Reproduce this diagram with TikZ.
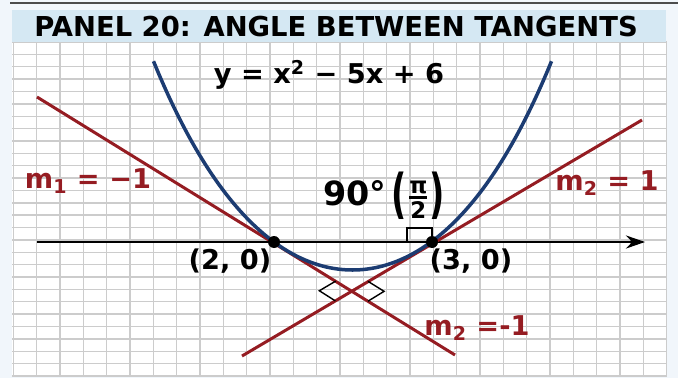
\documentclass[tikz,border=0pt]{standalone}
\usepackage{fontspec}
\setmainfont{DejaVu Sans}
\usetikzlibrary{arrows.meta,calc}
\definecolor{tanred}{HTML}{951C22}
\definecolor{curveblue}{HTML}{1C3C72}
\definecolor{bandblue}{HTML}{D5E8F3}
\definecolor{paleblue}{HTML}{F1F6FB}
\definecolor{gridgray}{HTML}{CCCCCC}
\tikzset{
  grid_l/.style = {gridgray, line width=0.8pt},
  tan_l/.style = {tanred, line width=1.7pt},
  curve_b/.style = {curveblue, line width=2pt},
  mark_l/.style = {black, line width=0.8pt},
  dot_p/.style = {circle, fill=black, inner sep=0pt, minimum size=0.24cm},
  lbl/.style = {inner sep=0pt, font=\bfseries\fontsize{15.5}{17}\selectfont},
  lbl_m/.style = {lbl, tanred}
}

\begin{document}
\begin{tikzpicture}[x=0.02cm, y=-0.02cm]
  \useasboundingbox (0,0) rectangle (678,378);
  \fill[paleblue] (0,0) rectangle (678,378);
  \fill[white] (12,42) rectangle (667,376);
  % grid
  \foreach \i in {0,...,28}
    \draw[grid_l] ({13.3+23.33*\i},42) -- ++(0,334);
  \foreach \j in {0,...,27}
    \draw[grid_l] (12,{42+12.37*\j}) -- ++(655,0);
  % title band
  \fill[bandblue] (12,10) rectangle (666,42);
  \draw[black!70, line width=1.2pt] (10,3) -- (678,3);
  \node (title) [inner sep=0pt, font=\bfseries\fontsize{15.6}{17}\selectfont]
    at (336,27) {PANEL 20: ANGLE BETWEEN TANGENTS};

  % axis and points
  \coordinate (axL) at (37,242);
  \coordinate (axR) at (645,242);
  \draw[black, line width=1.6pt, -{Stealth[length=0.38cm,width=0.26cm]}] (axL) -- (axR);
  \coordinate (ptA) at (274,242);
  \coordinate (ptB) at (432,242);

  % tangents
  \coordinate (t1a) at (37,97);
  \coordinate (t1b) at (455,355);
  \coordinate (t2a) at (242,356);
  \coordinate (t2b) at (642,120);
  \draw[tan_l] (t1a) -- (t1b);
  \draw[tan_l] (t2a) -- (t2b);
  \coordinate (cross) at (intersection of t1a--t1b and t2a--t2b);

  % curve
  \draw[curve_b, domain=153.5:551.5, samples=80, smooth]
    plot (\x, {270-44*((\x-352.5)/100)^2-2.2*((\x-352.5)/100)^4});

  % right angle marks
  \coordinate (qa) at ($(cross)!0.38cm!(ptA)$);
  \coordinate (qc) at ($(cross)!0.38cm!(t2a)$);
  \draw[mark_l] (qa) -- ($(qa)+(qc)-(cross)$) -- (qc);
  \coordinate (ra) at ($(cross)!0.38cm!(ptB)$);
  \coordinate (rc) at ($(cross)!0.38cm!(t1b)$);
  \draw[mark_l] (ra) -- ($(ra)+(rc)-(cross)$) -- (rc);
  \draw[mark_l] (407,242) -- (407,228) -- (432,228) -- (432,242);

  \node (dotA) [dot_p] at (ptA) {};
  \node (dotB) [dot_p] at (ptB) {};

  % labels
  \node (eqn) [lbl] at (329,75) {y = x\textsuperscript{2} − 5x + 6};
  \node (lblA) [lbl] at (230,261) {(2, 0)};
  \node (lblB) [lbl] at (471,261) {(3, 0)};
  \node (m1) [lbl_m] at (88,181) {m\textsubscript{1} = −1};
  \node (m2) [lbl_m] at (607,183) {m\textsubscript{2} = 1};
  \node (m3) [lbl_m] at (477,328) {m\textsubscript{2} =-1};
  \node (ang) [lbl, font=\bfseries\fontsize{19}{21}\selectfont] at (384,196)
    {90°\,\raisebox{-0.22em}{\scalebox{1}[1.6]{(}}$\mbox{\fontsize{13}{13}\selectfont π}\above 1.6pt
      \mbox{\fontsize{13}{13}\selectfont 2}$\raisebox{-0.22em}{\scalebox{1}[1.6]{)}}};
\end{tikzpicture}
\end{document}
